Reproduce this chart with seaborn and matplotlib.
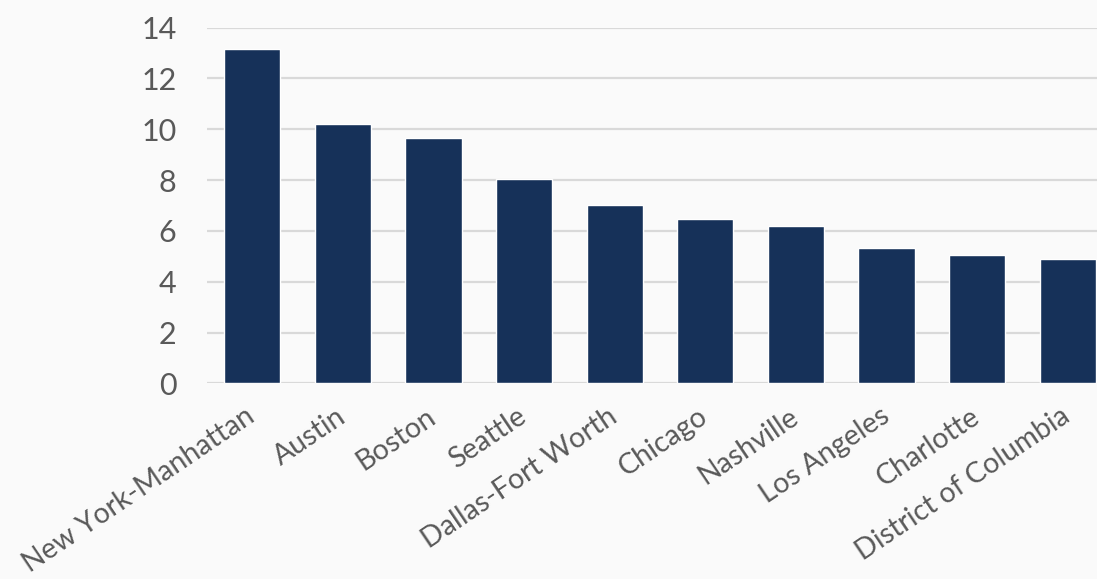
import matplotlib
matplotlib.use("Agg")
import matplotlib.pyplot as plt
import seaborn as sns
import pandas as pd

cities = ["New York-Manhattan", "Austin", "Boston", "Seattle", "Dallas-Fort Worth",
          "Chicago", "Nashville", "Los Angeles", "Charlotte", "District of Columbia"]
values = [13.15, 10.21, 9.65, 8.05, 7.01, 6.48, 6.21, 5.34, 5.04, 4.89]
yticks = [0, 2, 4, 6, 8, 10, 12, 14]

sns.set_theme(style="white")
plt.rcParams['font.family'] = ['Lato', 'DejaVu Sans']

bg = "#fafafa"
txt = "#595959"
bar_color = "#163159"

df = pd.DataFrame({"city": cities, "value": values})

fig = plt.figure(figsize=(10.97, 5.79), dpi=100, facecolor=bg)
ax = fig.add_axes([207 / 1097, (579 - 383.3) / 579, 906 / 1097, (383.3 - 27.7) / 579])
ax.set_facecolor(bg)

sns.barplot(data=df, x="city", y="value", order=cities, color=bar_color,
            width=0.62, saturation=1, ax=ax, zorder=3)

ax.set_ylim(0, 14)
ax.set_xlim(-0.5, len(cities) - 0.5)
ax.set_yticks(yticks)
ax.set_yticklabels([str(t) for t in yticks])
ax.yaxis.grid(True, color="#d9d9d9", linewidth=1.6, zorder=0)
ax.set_axisbelow(True)
for s in ax.spines.values():
    s.set_visible(False)
ax.set_xlabel("")
ax.set_ylabel("")
ax.tick_params(axis="y", length=0, pad=22, labelsize=22, labelcolor=txt)
ax.tick_params(axis="x", length=0, pad=22, labelsize=20.5, labelcolor=txt)
for lab in ax.get_xticklabels():
    lab.set_rotation(34)
    lab.set_rotation_mode("anchor")
    lab.set_ha("right")
    lab.set_va("center")

fig.savefig("out.png", dpi=100, facecolor=bg)
